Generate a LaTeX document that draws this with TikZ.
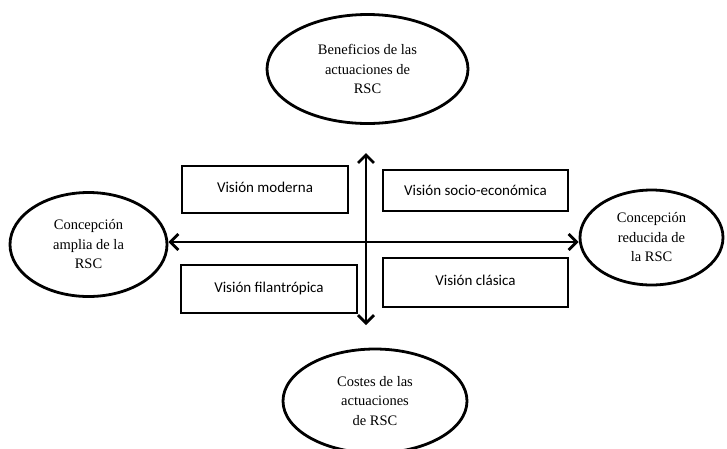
\documentclass[tikz,border=0pt]{standalone}
\usepackage{fontspec}
\setmainfont{Liberation Serif}
\newfontfamily\boxfont{Carlito}
\usetikzlibrary{shapes.geometric,arrows.meta}
\tikzset{
  ell/.style={draw, line width=2.8pt, ellipse, inner sep=0pt, align=center,
    font=\fontsize{14.5}{19.5}\selectfont},
  vbox/.style={draw, line width=1.7pt, rectangle, inner sep=0pt,
    font=\boxfont\fontsize{15}{18}\selectfont},
  axis/.style={line width=2.8pt,
    {Straight Barb[length=8pt,width=16pt]}-{Straight Barb[length=8pt,width=16pt]}}
}
\begin{document}
\begin{tikzpicture}[x=1pt,y=-1pt]
\useasboundingbox[fill=white] (0,0) rectangle (727,448);
\node[ell, minimum width=201pt, minimum height=109pt] (T) at (367.5,69) {Beneficios de las\\actuaciones de\\RSC};
\node[ell, minimum width=157pt, minimum height=104pt] (L) at (88.5,244.5) {Concepción\\amplia de la\\RSC};
\node[ell, minimum width=143pt, minimum height=95pt] (R) at (651.5,237.5) {Concepción\\reducida de\\la RSC};
\node[ell, minimum width=184pt, minimum height=104pt] (B) at (375,401) {Costes de las\\actuaciones\\de RSC};
\node[vbox, minimum width=166pt, minimum height=47pt] (M) at (265,189.5) {\raisebox{4pt}{Visión moderna}};
\node[vbox, minimum width=185pt, minimum height=41pt] (S) at (475.5,190.5) {Visión socio-económica};
\node[vbox, minimum width=176pt, minimum height=48pt] (F) at (269,289) {\raisebox{3pt}{Visión filantrópica}};
\node[vbox, minimum width=185pt, minimum height=49pt] (C) at (475.5,282.5) {\raisebox{4pt}{Visión clásica}};
\coordinate (vt) at (366,153);
\coordinate (vb) at (366,325);
\coordinate (hl) at (L.east |- 0,242);
\coordinate (hr) at (R.west |- 0,242);
\draw[axis] (hl) -- (hr);
\draw[axis] (vt) -- (vb);
\end{tikzpicture}
\end{document}
